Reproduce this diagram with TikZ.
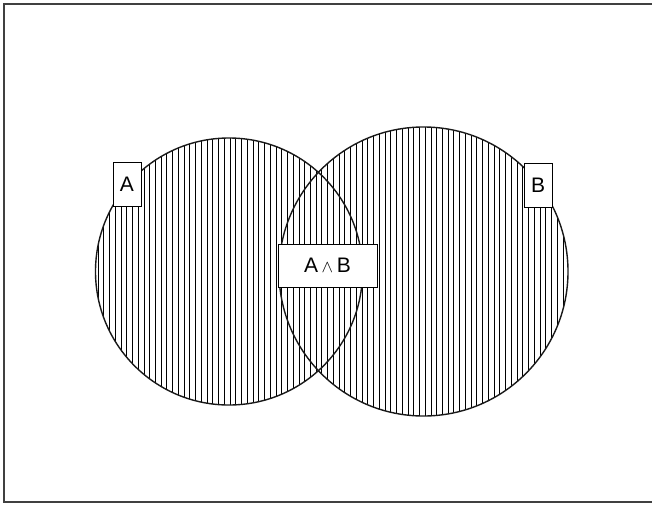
\documentclass[tikz,border=0pt]{standalone}
\usepackage{fontspec}
\setmainfont{Liberation Sans}
\tikzset{
  setlabel/.style={draw=black, fill=white, line width=1pt, inner sep=0pt,
    minimum width=28pt, minimum height=44pt, font=\fontsize{21}{24}\selectfont},
  hatchline/.style={line width=1pt, black},
  setcircle/.style={line width=1.4pt, black!90}
}
\begin{document}
\begin{tikzpicture}[x=1pt, y=-1pt]
    \useasboundingbox (0,0) rectangle (652,504);

    % Outer frame
    \draw[line width=1.6pt, black!75] (4,4) rectangle (656,502);

    % Set centres
    \coordinate (ca) at (229,271.5);
    \coordinate (cb) at (423.5,271.5);

    % Vertical hatching of A
    \begin{scope}
      \clip (ca) circle (133.5);
      \foreach \i in {0,...,82} {
        \pgfmathsetmacro\xx{round(97.6+5.74*\i)+0.5}
        \draw[hatchline] (\xx,120) -- (\xx,425);
      }
    \end{scope}

    % Vertical hatching of B
    \begin{scope}
      \clip (cb) circle (144.5);
      \foreach \i in {0,...,82} {
        \pgfmathsetmacro\xx{round(97.6+5.74*\i)+0.5}
        \draw[hatchline] (\xx,120) -- (\xx,425);
      }
    \end{scope}

    % Circles
    \draw[setcircle] (ca) circle (133.5);
    \draw[setcircle] (cb) circle (144.5);

    % Labels
    \node[setlabel] (la) at (127,184) {A};
    \node[setlabel] (lb) at (538,185) {B};
    \node[setlabel, minimum width=99pt, minimum height=43pt] (lab) at (327.5,265.5)
      {A\,{\fontsize{16}{16}\selectfont$\wedge$}\,B};
\end{tikzpicture}
\end{document}
